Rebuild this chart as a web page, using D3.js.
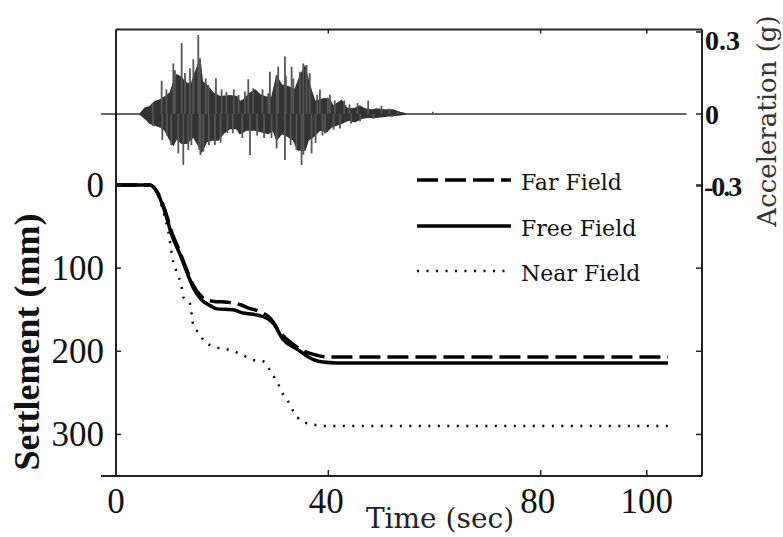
<!DOCTYPE html>
<html>
<head>
<meta charset="utf-8">
<script src="https://cdn.jsdelivr.net/npm/d3@7"></script>
<style>
  body { margin: 0; background: #fff; }
  svg { display: block; }
</style>
</head>
<body>
<script>
// settlement records (time in sec, settlement in mm)
const timeFree   = [0, 6.4, 8.0, 9.2, 10.5, 12.1, 13.3, 14.6, 16.1, 18.0, 19.0, 22.0, 24.0, 27.0, 29.6, 31.5, 34.0, 37.2, 39.0, 41.6, 104];
const settleFree = [0, 0, 12, 32, 60, 84, 104, 124, 138, 146, 149, 150, 154, 157, 166, 186, 197, 210, 213, 214, 214];

const timeFar   = [0, 6.4, 8.0, 9.2, 10.5, 12.0, 13.2, 14.5, 15.8, 17.0, 18.5, 21.0, 23.5, 25.0, 27.0, 29.0, 31.0, 33.0, 35.5, 38.0, 40.0, 104];
const settleFar = [0, 0, 11, 30, 57, 80, 100, 120, 132, 138, 140, 141, 144, 148, 152, 160, 178, 190, 200, 205, 207, 207];

const timeNear   = [0, 6.4, 8.0, 9.0, 9.85, 10.8, 11.4, 12.4, 12.7, 13.9, 14.3, 14.6, 15.8, 16.4, 18.3, 21.1, 23.7, 25.6, 27.7, 29.3, 30.6, 31.5, 32.4, 33.4, 35.0, 37.2, 39.7, 104];
const settleNear = [0, 0, 14, 34, 56, 93, 104, 124, 135, 142, 158, 170, 179, 186, 194, 198, 204, 210, 212, 226, 240, 252, 260, 272, 284, 288, 290, 290];

// input motion (g): body envelope + single peaks
const accelUpper = [[-2.8,0],[4.52,0],[5.46,0.021],[6.40,0.027],[7.34,0.045],[8.29,0.051],[9.23,0.063],[10.17,0.076],[10.80,0.112],[11.43,0.143],[12.05,0.137],[12.68,0.124],[13.31,0.112],[14.25,0.112],[14.88,0.149],[15.82,0.198],[16.26,0.118],[17.07,0.106],[17.83,0.088],[18.33,0.076],[19.59,0.063],[21.47,0.067],[22.72,0.063],[23.35,0.045],[23.98,0.051],[25.24,0.076],[26.18,0.088],[27.12,0.070],[28.06,0.063],[29.32,0.057],[30.26,0.137],[31.2,0.106],[32.45,0.100],[33.71,0.088],[34.65,0.137],[35.59,0.173],[36.22,0.124],[36.85,0.082],[37.48,0.045],[38.42,0.051],[39.36,0.057],[40.30,0.051],[40.93,0.027],[41.56,0.037],[42.5,0.049],[43.45,0.021],[44.69,0.018],[45.95,0.029],[46.89,0.018],[48.15,0.015],[49.1,0.018],[50.34,0.015],[52.2,0.015],[53.5,0.006],[54.7,0],[107.5,0]];
const accelLower = [[-2.8,0],[4.52,0],[5.46,-0.018],[6.40,-0.039],[7.34,-0.046],[8.29,-0.053],[9.23,-0.067],[10.17,-0.108],[10.80,-0.129],[11.43,-0.101],[12.37,-0.122],[13.31,-0.122],[13.94,-0.108],[14.57,-0.094],[15.32,-0.122],[16.13,-0.157],[17.07,-0.115],[18.02,-0.108],[19.27,-0.108],[20.21,-0.081],[21.47,-0.060],[22.72,-0.060],[23.35,-0.081],[24.6,-0.067],[26.18,-0.067],[27.43,-0.074],[28.69,-0.081],[29.63,-0.067],[30.26,-0.108],[31.2,-0.081],[32.45,-0.094],[33.4,-0.108],[34.3,-0.150],[35.59,-0.150],[36.22,-0.108],[37.16,-0.094],[38.42,-0.067],[39.67,-0.074],[40.6,-0.053],[41.56,-0.046],[42.5,-0.039],[43.75,-0.025],[45.0,-0.032],[46.27,-0.018],[47.51,-0.014],[49.1,-0.014],[50.97,-0.008],[53.17,-0.004],[54.7,0],[107.5,0]];
const accelPeaks = [[8.6,0.122],[10.8,0.185],[12.37,0.259],[13.94,0.167],[14.57,0.200],[15.5,0.289],[15.82,0.204],[17.39,0.106],[18.83,0.131],[24.29,0.082],[24.92,0.127],[25.86,0.094],[28.69,0.076],[29.0,0.155],[30.26,0.143],[30.56,0.173],[31.83,0.210],[33.08,0.173],[34.65,0.155],[35.28,0.185],[35.9,0.179],[38.42,0.090],[40.3,0.070],[47.51,0.049],
  [6.9,0.04],[9.5,0.09],[11.1,0.16],[13.0,0.15],[16.9,0.13],[19.9,0.09],[20.8,0.08],[22.2,0.09],[23.1,0.07],[27.6,0.09],[32.0,0.14],[33.4,0.13],[36.5,0.15],[37.9,0.07],[39.9,0.06],[41.2,0.05],[43.0,0.05],[44.0,0.035],[45.5,0.04],[50.0,0.03],[51.5,0.02],[53.0,0.01],
  [8.73,-0.108],[11.74,-0.164],[12.68,-0.213],[13.62,-0.150],[15.7,-0.150],[15.9,-0.171],[16.45,-0.157],[18.64,-0.129],[25.24,-0.171],[30.26,-0.143],[31.83,-0.192],[34.0,-0.150],[34.96,-0.213],[36.85,-0.164],[39.36,-0.081],
  [7.0,-0.05],[9.6,-0.09],[10.4,-0.13],[14.2,-0.13],[17.5,-0.13],[19.7,-0.12],[21.0,-0.08],[22.0,-0.08],[23.8,-0.10],[26.6,-0.09],[27.9,-0.10],[29.3,-0.10],[32.9,-0.13],[35.3,-0.17],[37.6,-0.12],[38.9,-0.09],[41.0,-0.065],[42.2,-0.06],[44.3,-0.04],[46.0,-0.03],[48.5,-0.02],[52.0,-0.012],[59.7,0.008]];

const xTicks = [40, 80, 100];
const settleTicks = [0, 100, 200, 300];
const accelTicks = [0.3, 0, -0.3];
const accelTickLabels = ["0.3", "0", "-0.3"];

const legendItems = [
  { name: "Far Field", dash: "21,7", width: 3.5 },
  { name: "Free Field", dash: null, width: 3.5 },
  { name: "Near Field", dash: "2,7.5", width: 2.5 }
];

const W = 783, H = 537;
const plotL = 116, plotR = 702, plotT = 29.5, plotB = 476;

const svg = d3.select("body").append("svg")
    .attr("width", W).attr("height", H);
svg.append("rect").attr("width", W).attr("height", H).attr("fill", "#fff");

const x = d3.scaleLinear().domain([0, 110.4]).range([plotL, plotR]);
const y = d3.scaleLinear().domain([0, 350]).range([185, plotB]);
const ya = d3.scaleLinear().domain([-0.3, 0, 0.3]).range([186, 114, 32]);

// acceleration trace
const accLine = d3.line().x(d => x(d[0])).y(d => ya(d[1]));
svg.append("path")
    .attr("d", accLine(accelUpper.concat(accelLower.slice().reverse())) + "Z")
    .attr("fill", "#333").attr("stroke", "#333").attr("stroke-width", 1.5);
svg.append("g").selectAll("line")
    .data(accelPeaks).enter().append("line")
    .attr("x1", d => x(d[0])).attr("x2", d => x(d[0]))
    .attr("y1", ya(0)).attr("y2", d => ya(d[1]))
    .attr("stroke", "#555").attr("stroke-width", 1.8);

// settlement curves
const sLine = d3.line().curve(d3.curveMonotoneX).x(d => x(d[0])).y(d => y(d[1]));
const series = [
  { t: timeNear, s: settleNear, style: legendItems[2] },
  { t: timeFar, s: settleFar, style: legendItems[0] },
  { t: timeFree, s: settleFree, style: legendItems[1] }
];
series.forEach(sr => {
  svg.append("path")
      .attr("d", sLine(sr.t.map((t, i) => [t, sr.s[i]])))
      .attr("fill", "none").attr("stroke", "#000")
      .attr("stroke-width", sr.style.width)
      .attr("stroke-dasharray", sr.style.dash);
});

// frame
const ax = "#222";
svg.append("line").attr("x1", 101).attr("x2", plotR).attr("y1", plotB).attr("y2", plotB)
    .attr("stroke", ax).attr("stroke-width", 2);
svg.append("line").attr("x1", plotL).attr("x2", plotR).attr("y1", plotT).attr("y2", plotT)
    .attr("stroke", ax).attr("stroke-width", 2);
svg.append("line").attr("x1", plotL).attr("x2", plotL).attr("y1", plotT).attr("y2", plotB)
    .attr("stroke", ax).attr("stroke-width", 2);
svg.append("line").attr("x1", plotR).attr("x2", plotR).attr("y1", plotT).attr("y2", plotB)
    .attr("stroke", ax).attr("stroke-width", 2);

// ticks
const tk = svg.append("g").attr("stroke", ax).attr("stroke-width", 1.5);
xTicks.forEach(v => {
  tk.append("line").attr("x1", x(v)).attr("x2", x(v)).attr("y1", plotB).attr("y2", plotB - 6);
  tk.append("line").attr("x1", x(v)).attr("x2", x(v)).attr("y1", plotT).attr("y2", plotT + 4);
});
settleTicks.forEach(v => {
  tk.append("line").attr("x1", plotL).attr("x2", plotL + 5).attr("y1", y(v)).attr("y2", y(v));
  tk.append("line").attr("x1", plotR).attr("x2", plotR - 6).attr("y1", y(v)).attr("y2", y(v));
});
accelTicks.forEach(v => {
  tk.append("line").attr("x1", plotR).attr("x2", plotR - 6).attr("y1", ya(v)).attr("y2", ya(v));
});

// tick labels
const numFont = "'Liberation Serif', 'Times New Roman', serif";
svg.append("g").selectAll("text").data(settleTicks).enter().append("text")
    .attr("x", 104).attr("y", d => y(d) + 12)
    .attr("text-anchor", "end")
    .style("font", "35px " + numFont).attr("fill", "#111")
    .text(d => d);
svg.append("g").selectAll("text").data([0].concat(xTicks)).enter().append("text")
    .attr("x", d => x(d) - (d === 40 ? 2 : d === 80 ? 3 : 0)).attr("y", 513)
    .attr("text-anchor", "middle")
    .style("font", "35px " + numFont).attr("fill", "#111")
    .text(d => d);
svg.append("g").selectAll("text").data(accelTicks).enter().append("text")
    .attr("x", d => d < 0 ? 704 : 705)
    .attr("y", (d, i) => (i === 0 ? 40 : ya(d)) + 10)
    .attr("letter-spacing", d => d < 0 ? -2 : 0)
    .style("font", "bold 28px " + numFont).attr("fill", "#111")
    .text((d, i) => accelTickLabels[i]);

// axis titles
const yTitle = svg.append("text")
    .attr("transform", "translate(39,342) rotate(-90)")
    .attr("text-anchor", "middle")
    .style("font", "bold 36px " + numFont).attr("fill", "#111")
    .text("Settlement (mm)");
// stretch to the span the original title covers
const natural = yTitle.node().getComputedTextLength();
const nChars = "Settlement (mm)".length;
if (natural < 241) yTitle.attr("letter-spacing", (241 - natural) / (nChars - 1));

svg.append("text")
    .attr("transform", "translate(776,121) rotate(-90)")
    .attr("text-anchor", "middle")
    .style("font", "26px 'DejaVu Serif', serif").attr("fill", "#333")
    .text("Acceleration (g)");
svg.append("text")
    .attr("x", 440).attr("y", 528)
    .attr("text-anchor", "middle")
    .style("font", "28px 'DejaVu Serif', serif").attr("fill", "#222")
    .text("Time (sec)");

// legend
const lg = svg.append("g");
const legBase = [190, 236, 281];
legendItems.forEach((d, i) => {
  lg.append("line")
      .attr("x1", 417).attr("x2", 511)
      .attr("y1", legBase[i] - 10).attr("y2", legBase[i] - 10)
      .attr("stroke", "#000").attr("stroke-width", d.width)
      .attr("stroke-dasharray", d.dash);
  lg.append("text")
      .attr("x", 521).attr("y", legBase[i])
      .style("font", "22px 'DejaVu Serif', serif").attr("fill", "#111")
      .text(d.name);
});
</script>
</body>
</html>
